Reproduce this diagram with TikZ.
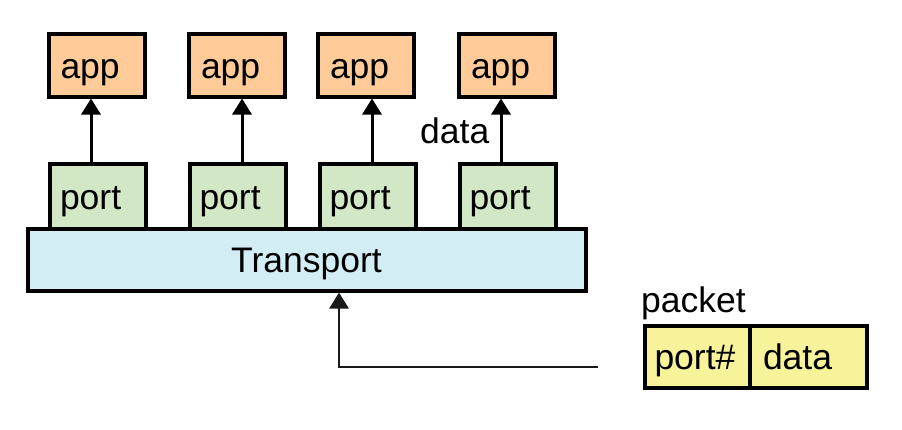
\documentclass[tikz,border=0pt]{standalone}
\usepackage{fontspec}
\setmainfont{Liberation Sans}
\usetikzlibrary{arrows.meta}
\definecolor{appfill}{HTML}{FFCC99}
\definecolor{portfill}{HTML}{D1E7C5}
\definecolor{trfill}{HTML}{D2EDF3}
\definecolor{pktfill}{HTML}{F7F39B}
\begin{document}
\begin{tikzpicture}[x=1pt,y=-1pt,font=\fontsize{35.5}{42}\selectfont,
  bx/.style={draw=black, line width=4pt, inner ysep=0pt, text height=26pt, text depth=0pt, align=left},
  appbox/.style={bx, fill=appfill, inner xsep=12pt, text width=72pt, minimum height=63pt},
  portbox/.style={bx, fill=portfill, inner xsep=10pt, text width=76pt, minimum height=65pt},
  trbox/.style={bx, fill=trfill, align=center, inner xsep=0pt, minimum width=558pt, minimum height=62pt},
  cellbox/.style={bx, fill=pktfill, minimum height=62pt},
  lbl/.style={inner sep=0pt, anchor=base west},
  arr/.style={line width=3pt, -{Triangle[width=19pt,length=16pt]}},
  arrin/.style={line width=2.6pt, black!90, -{Triangle[width=19pt,length=16pt]}}]
\useasboundingbox (0,0) rectangle (902,429);
% apps
\node[appbox] (a1) at (96.5,65) {app};
\node[appbox] (a2) at (237,65) {app};
\node[appbox] (a3) at (366,65) {app};
\node[appbox] (a4) at (507,65) {app};
% ports
\node[portbox] (p1) at (98,196) {port};
\node[portbox] (p2) at (237.5,196) {port};
\node[portbox] (p3) at (367.5,196) {port};
\node[portbox] (p4) at (507.5,196) {port};
% transport
\node[trbox] (tr) at (306.5,259.5) {Transport};
% arrows port -> app
\draw[arr] (p1.north -| 91,0) -- (a1.south -| 91,0);
\draw[arr] (p2.north -| 242,0) -- (a2.south -| 242,0);
\draw[arr] (p3.north -| 372,0) -- (a3.south -| 372,0);
\draw[arr] (p4.north -| 501,0) -- (a4.south -| 501,0);
\node[lbl] (dl) at (420,143) {data};
% packet
\node[lbl] (pl) at (641,312) {packet};
\node[cellbox, inner xsep=10pt, text width=85.5pt] (c1) at (697.25,356.5) {port\#};
\node[cellbox, inner xsep=13pt, text width=90.5pt] (c2) at (808.25,356.5) {data};
% incoming connector
\coordinate (pin) at (598,367);
\draw[arrin] (pin) -| (tr.south -| 339,0);
\end{tikzpicture}
\end{document}
